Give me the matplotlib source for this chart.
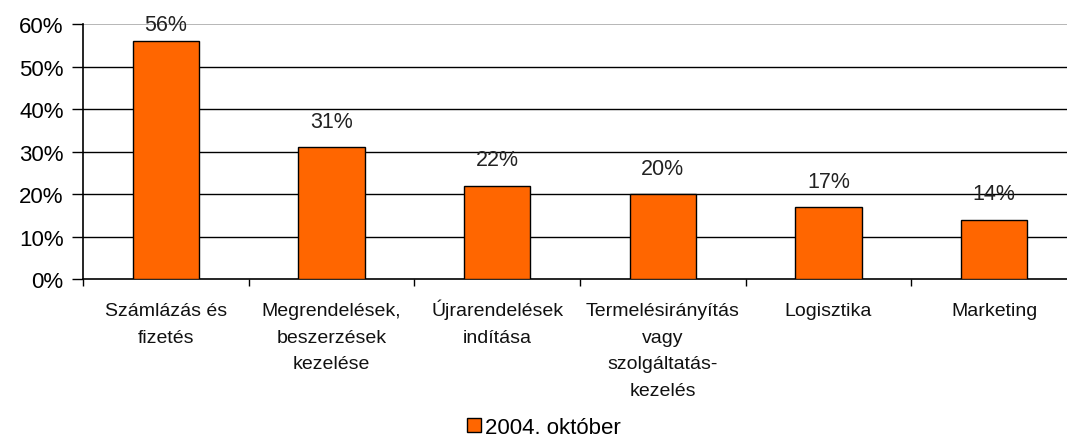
import matplotlib
matplotlib.use("Agg")
import matplotlib.pyplot as plt
import numpy as np
from matplotlib.patches import Patch
from matplotlib.ticker import MultipleLocator, FixedLocator

# 数据
categories = [
    "Számlázás és\nfizetés",
    "Megrendelések,\nbeszerzések\nkezelése",
    "Újrarendelések\nindítása",
    "Termelésirányítás\nvagy\nszolgáltatás-\nkezelés",
    "Logisztika",
    "Marketing",
]
values = [56, 31, 22, 20, 17, 14]
series_name = "2004. október"

BAR_COLOR = "#FF6600"
YMAX = 60

plt.rcParams["font.family"] = ["Liberation Sans", "DejaVu Sans"]

fig = plt.figure(figsize=(10.67, 4.39), dpi=100)
ax = fig.add_axes([0.0778, 0.362, 0.9316, 0.581])

x = np.arange(len(categories))
bars = ax.bar(x, values, width=0.4, color=BAR_COLOR, edgecolor="black",
              linewidth=1.0, zorder=3)

# 数值标签（超出绘图区时压在顶端）
for b, v in zip(bars, values):
    cx = b.get_x() + b.get_width() / 2
    if v + 8 > YMAX:
        ax.text(cx, YMAX, f"{v}%", ha="center", va="center",
                fontsize=15.5, color="#222222", zorder=4)
    else:
        ax.annotate(f"{v}%", xy=(cx, v), xytext=(0, 11),
                    textcoords="offset points", ha="center", va="bottom",
                    fontsize=15.5, color="#222222")

ax.set_xlim(-0.5, len(categories) - 0.5)
ax.set_ylim(0, YMAX)
ax.yaxis.set_major_locator(MultipleLocator(10))
ax.set_yticklabels([f"{int(t)}%" for t in ax.get_yticks()])

# 网格
for t in range(10, YMAX, 10):
    ax.axhline(t, color="black", linewidth=1.0, zorder=1)
ax.axhline(YMAX, color="#AAAAAA", linewidth=1.2, zorder=1)

# x 轴刻度在类别边界，类别名称逐行画（基线对齐）
ax.xaxis.set_major_locator(FixedLocator(np.arange(-0.5, len(categories), 1)))
ax.xaxis.set_major_formatter(plt.NullFormatter())
ax.tick_params(axis="x", which="major", length=5, width=1, color="black")
for xi, lab in zip(x, categories):
    for i, line in enumerate(lab.split("\n")):
        ax.annotate(line, xy=(xi, 0), xycoords=("data", "axes fraction"),
                    xytext=(0, -(36 + i * 26.5) * 0.72),
                    textcoords="offset points", ha="center", va="baseline",
                    fontsize=14, color="#111111", annotation_clip=False)
ax.tick_params(axis="y", length=8, width=1, labelsize=16, pad=6)

for s in ["top", "right"]:
    ax.spines[s].set_visible(False)
ax.spines["left"].set_linewidth(1.2)
ax.spines["bottom"].set_linewidth(1.2)

handles = [Patch(facecolor=BAR_COLOR, edgecolor="black", label=series_name)]
fig.legend(handles=handles, loc="center", bbox_to_anchor=(0.51, 0.025),
           frameon=False, fontsize=16, handlelength=0.6, handleheight=0.6,
           handletextpad=0.2, borderpad=0.1)

fig.savefig("out.png", dpi=100)
